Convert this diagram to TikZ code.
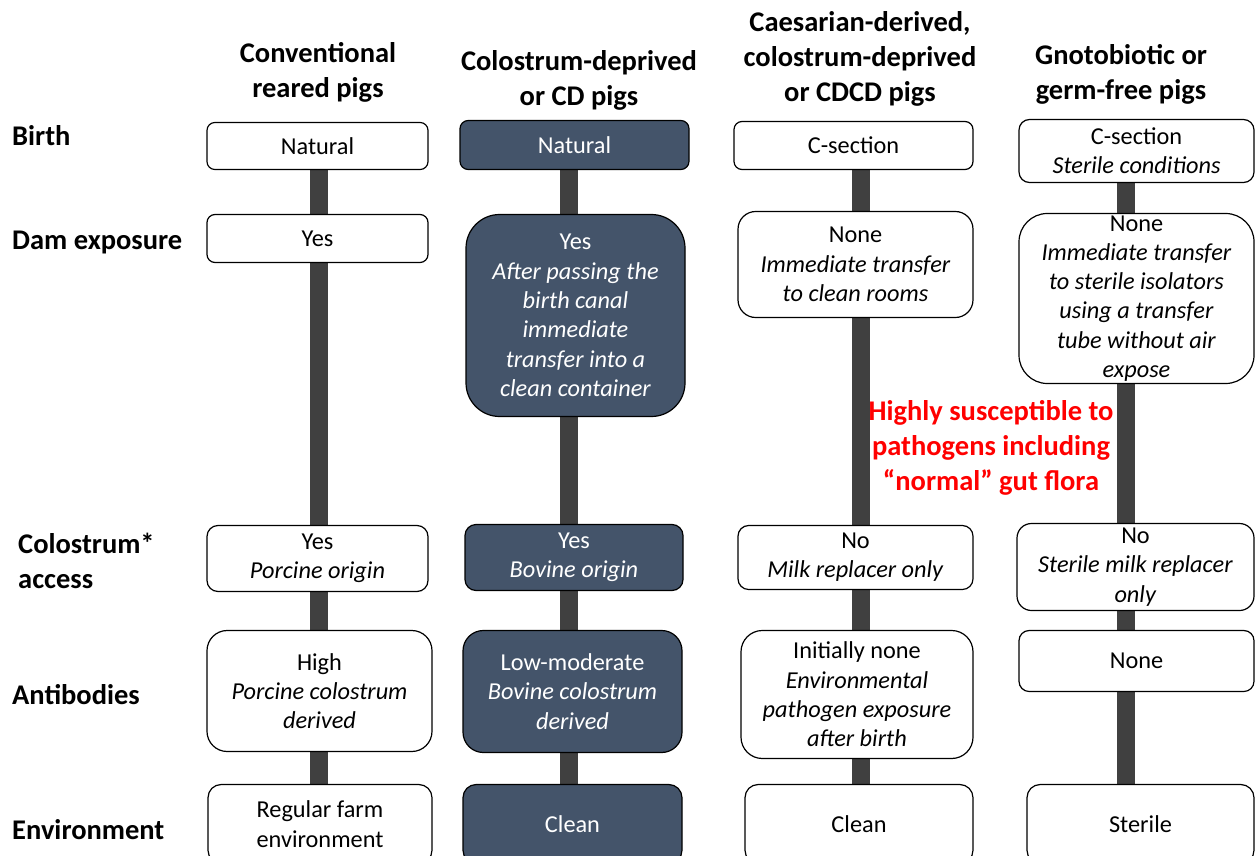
\documentclass[tikz,border=0pt]{standalone}
\usepackage{fontspec}
\setmainfont{Carlito}
\usetikzlibrary{backgrounds}
\definecolor{darkfill}{HTML}{44546A}
\definecolor{bargrey}{HTML}{404040}
\definecolor{alertred}{HTML}{FF0000}
\newcommand\placebox[7]{%
  \pgfmathsetmacro\pbw{#5-#3}%
  \pgfmathsetmacro\pbh{#6-#4}%
  \pgfmathsetmacro\pbr{0.1667*min(\pbw,\pbh)}%
  \node[#1, minimum width=\pbw pt, minimum height=\pbh pt, rounded corners=\pbr pt] (#2) at ({(#3+#5)/2},{(#4+#6)/2+1.5}) {#7};%
}
\begin{document}
\begin{tikzpicture}[x=1pt,y=-1pt,
  box/.style={draw=black, line width=1.2pt, fill=white, align=center, inner sep=0pt,
    font=\fontsize{24.3}{29.3}\selectfont},
  dbox/.style={box, fill=darkfill, text=white},
  hdr/.style={align=center, inner sep=0pt, font=\fontsize{28.5}{35}\selectfont\bfseries},
  rowlab/.style={anchor=west, align=left, inner sep=0pt, font=\fontsize{28.5}{35}\selectfont\bfseries},
  alert/.style={align=center, inner sep=0pt, text=alertred, font=\fontsize{28.5}{35}\selectfont\bfseries},
  bar/.style={line width=18pt, draw=bargrey},
]
\path[use as bounding box, clip] (0,0) rectangle (1255,856);

% column headers
\node[hdr] (h1) at (318,72.5) {Conventional\\reared pigs};
\node[hdr] (h2) at (579,80.5) {Colostrum-deprived\\or CD pigs};
\node[hdr] (h3) at (860,59) {Caesarian-derived,\\colostrum-deprived\\or CDCD pigs};
\node[hdr] (h4) at (1121,74) {Gnotobiotic or\\germ-free pigs};

% row labels
\node[rowlab] (r1) at (12,136) {Birth};
\node[rowlab] (r2) at (12,242) {Dam exposure};
\node[rowlab] (r3) at (18,561) {Colostrum*\\access};
\node[rowlab] (r4) at (12,695) {Antibodies};
\node[rowlab] (r5) at (12,830) {Environment};

% column 1
\placebox{box}{b1}{207}{121}{428}{168}{Natural}
\placebox{box}{d1}{207}{213}{428}{261}{Yes}
\placebox{box}{c1}{207}{524}{428}{590}{Yes\\\textit{Porcine origin}}
\placebox{box}{a1}{207}{629}{432}{750}{High\\\textit{Porcine colostrum}\\\textit{derived}}
\placebox{box}{e1}{208}{783}{432}{862}{Regular farm\\environment}

% column 2
\placebox{dbox}{b2}{460}{119}{689}{168}{Natural}
\placebox{dbox}{d2}{466}{213}{685}{415}{Yes\\\textit{After passing the}\\\textit{birth canal}\\\textit{immediate}\\\textit{transfer into a}\\\textit{clean container}}
\placebox{dbox}{c2}{465}{523}{683}{589}{Yes\\\textit{Bovine origin}}
\placebox{dbox}{a2}{463}{629}{682}{751}{Low-moderate\\\textit{Bovine colostrum}\\\textit{derived}}
\placebox{dbox}{e2}{463}{783}{682}{862}{Clean}

% column 3
\placebox{box}{b3}{734}{120}{973}{168}{C-section}
\placebox{box}{d3}{738}{210}{973}{316}{None\\\textit{Immediate transfer}\\\textit{to clean rooms}}
\placebox{box}{c3}{738}{524}{973}{588}{No\\\textit{Milk replacer only}}
\placebox{box}{a3}{741}{629}{973}{757}{Initially none\\\textit{Environmental}\\\textit{pathogen exposure}\\\textit{after birth}}
\placebox{box}{e3}{745}{783}{973}{862}{Clean}

% column 4
\placebox{box}{b4}{1019}{118}{1254}{181}{C-section\\\textit{Sterile conditions}}
\placebox{box}{d4}{1019}{212}{1254}{382}{None\\\textit{Immediate transfer}\\\textit{to sterile isolators}\\\textit{using a transfer}\\\textit{tube without air}\\\textit{expose}}
\placebox{box}{c4}{1017}{522}{1254}{609}{No\\\textit{Sterile milk replacer}\\\textit{only}}
\placebox{box}{a4}{1019}{629}{1254}{690}{None}
\placebox{box}{e4}{1027}{783}{1254}{862}{Sterile}

% bars behind the boxes
\coordinate (x1) at (319,0);
\coordinate (x2) at (569,0);
\coordinate (x3) at (861,0);
\coordinate (x4) at (1126,0);
\begin{scope}[on background layer]
  \fill[white] (0,0) rectangle (1255,856);
  \draw[bar] (x1 |- b1) -- (x1 |- e1);
  \draw[bar] (x2 |- b2) -- (x2 |- e2);
  \draw[bar] (x3 |- b3) -- (x3 |- e3);
  \draw[bar] (x4 |- b4) -- (x4 |- e4);
\end{scope}

% red note
\node[alert] (note) at (991,447.5) {Highly susceptible to\\pathogens including\\“normal” gut flora};
\end{tikzpicture}
\end{document}
